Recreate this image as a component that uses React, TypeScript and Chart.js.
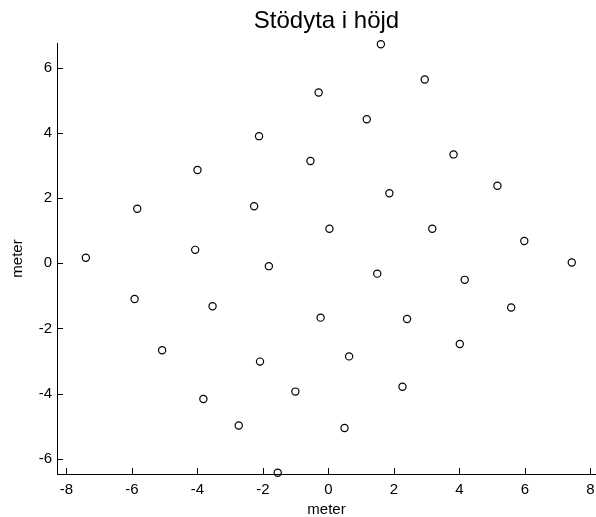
import React, { useEffect, useRef } from "react";
import { Chart, registerables } from "chart.js";

Chart.register(...registerables);

const TITLE = "Stödyta i höjd";
const X_LABEL = "meter";
const Y_LABEL = "meter";

const xValues = [
  -7.41, -5.84, -5.92, -5.08, -4.0, -4.07, -3.54, -3.82, -2.74, -2.12, -2.27, -1.82,
  -2.09, -1.55, -1.01, -0.3, -0.55, 0.03, -0.24, 0.63, 0.49, 1.6, 1.17, 1.86,
  1.49, 2.4, 2.26, 2.94, 3.17, 3.82, 4.16, 4.01, 5.16, 5.98, 5.58, 7.43,
];
const yValues = [
  0.17, 1.67, -1.1, -2.67, 2.86, 0.41, -1.32, -4.17, -4.98, 3.9, 1.75, -0.09,
  -3.02, -6.43, -3.94, 5.24, 3.14, 1.06, -1.67, -2.86, -5.06, 6.72, 4.42, 2.15,
  -0.32, -1.71, -3.79, 5.64, 1.06, 3.34, -0.51, -2.48, 2.38, 0.68, -1.36, 0.02,
];

const X_MIN = -8.29;
const X_MAX = 8.17;
const Y_MIN = -6.47;
const Y_MAX = 6.76;
const TICK_STEP = 2;

const FONT = "'Liberation Sans', Arial, Helvetica, sans-serif";

const inwardTicks = {
  id: "inwardTicks",
  afterDatasetsDraw(chart: any) {
    const ctx = chart.ctx;
    const area = chart.chartArea;
    const len = 6;
    ctx.save();
    ctx.strokeStyle = "#000";
    ctx.lineWidth = 1;
    ctx.beginPath();
    const xs = chart.scales.x;
    xs.ticks.forEach((t: any) => {
      const px = Math.round(xs.getPixelForValue(t.value)) + 0.5;
      ctx.moveTo(px, area.bottom);
      ctx.lineTo(px, area.bottom - len);
    });
    const ys = chart.scales.y;
    ys.ticks.forEach((t: any) => {
      const py = Math.round(ys.getPixelForValue(t.value)) + 0.5;
      ctx.moveTo(area.left, py);
      ctx.lineTo(area.left + len, py);
    });
    ctx.stroke();
    ctx.restore();
  },
};

export default function App() {
  const canvasRef = useRef<HTMLCanvasElement | null>(null);

  useEffect(() => {
    if (!canvasRef.current) return;
    const points = xValues.map((x, i) => ({ x, y: yValues[i] }));
    const chart = new Chart(canvasRef.current, {
      type: "scatter",
      data: {
        datasets: [
          {
            data: points,
            pointStyle: "circle",
            pointRadius: 3.6,
            pointBorderWidth: 1.2,
            pointBorderColor: "#000",
            pointBackgroundColor: "rgba(0,0,0,0)",
            clip: false as any,
          },
        ],
      },
      options: {
        responsive: false,
        animation: false,
        layout: { padding: 0, autoPadding: false },
        plugins: {
          legend: { display: false },
          tooltip: { enabled: false },
          title: {
            display: true,
            text: TITLE,
            fullSize: false,
            color: "#000",
            font: { family: FONT, size: 24, weight: "normal", lineHeight: 1.2 },
            padding: { top: 7, bottom: 7.2 },
          },
        },
        scales: {
          x: {
            type: "linear",
            min: X_MIN,
            max: X_MAX,
            afterFit(scale: any) {
              scale.height = 43;
              scale.paddingLeft = 0;
              scale.paddingRight = 0;
            },
            grid: { display: false, drawTicks: false },
            border: { display: true, color: "#000", width: 1 },
            ticks: {
              stepSize: TICK_STEP,
              includeBounds: false,
              color: "#000",
              padding: 7,
              font: { family: FONT, size: 15 },
              maxRotation: 0,
            },
            title: {
              display: true,
              text: X_LABEL,
              color: "#000",
              font: { family: FONT, size: 15, lineHeight: 1 },
              padding: 0,
            },
          },
          y: {
            type: "linear",
            min: Y_MIN,
            max: Y_MAX,
            afterFit(scale: any) {
              scale.width = 57;
              scale.paddingTop = 0;
              scale.paddingBottom = 0;
            },
            grid: { display: false, drawTicks: false },
            border: { display: true, color: "#000", width: 1 },
            ticks: {
              stepSize: TICK_STEP,
              includeBounds: false,
              color: "#000",
              padding: 5,
              font: { family: FONT, size: 15 },
            },
            title: {
              display: true,
              text: Y_LABEL,
              color: "#000",
              font: { family: FONT, size: 15, lineHeight: 1.2 },
              padding: { top: 9, bottom: 0 },
            },
          },
        },
      },
      plugins: [inwardTicks],
    });
    return () => chart.destroy();
  }, []);

  return (
    <div style={{ position: "absolute", left: 0, top: 0, width: 596, height: 517, background: "#fff" }}>
      <canvas ref={canvasRef} width={596} height={517} style={{ display: "block" }} />
    </div>
  );
}
